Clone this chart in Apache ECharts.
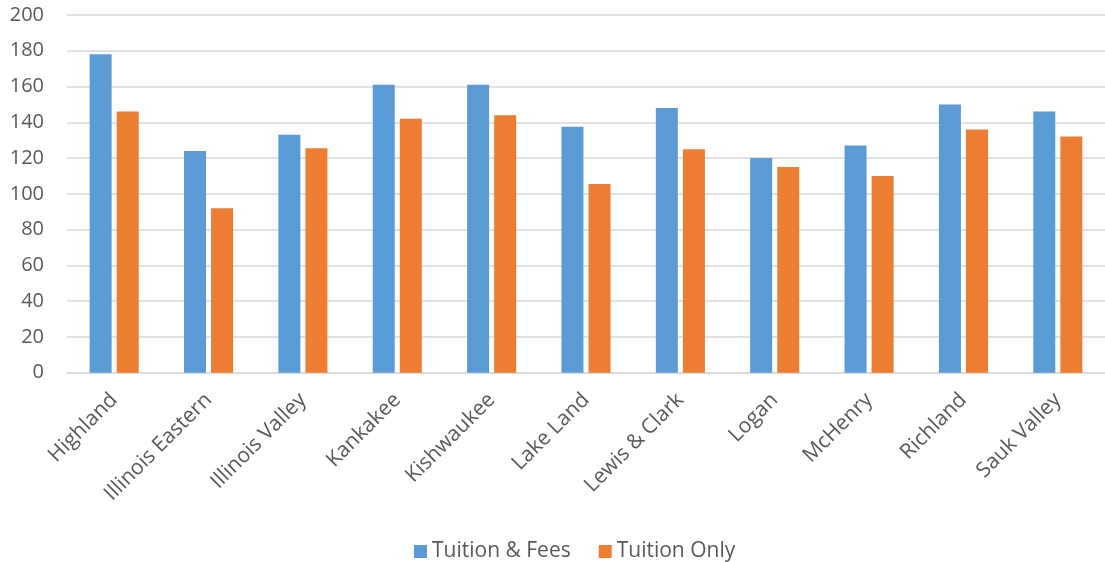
<!DOCTYPE html>
<html><head><meta charset="utf-8">
<script src="https://cdn.jsdelivr.net/npm/echarts@6/dist/echarts.min.js"></script>
<style>html,body{margin:0;padding:0;background:#fff}#c{width:1105px;height:562px}</style>
</head><body><div id="c"></div>
<script>
var categories = ["Highland","Illinois Eastern","Illinois Valley","Kankakee","Kishwaukee","Lake Land","Lewis & Clark","Logan","McHenry","Richland","Sauk Valley"];
var tuitionFees = [178,124,133,161,161,137.5,148,120,127,150,146];
var tuitionOnly = [146,92,125.5,142,144,105.5,125,115,110,136,132];
var seriesNames = ["Tuition & Fees","Tuition Only"];

var chart = echarts.init(document.getElementById('c'));
var font = "'Open Sans', 'Noto Sans', sans-serif";
chart.setOption({
  animation:false,
  textStyle:{fontFamily:font},
  color:['#5b9bd5','#ed7d31'],
  grid:{left:67, top:15, width:1046, height:357.7},
  legend:{
    data:seriesNames, left:409, top:536, itemWidth:13, itemHeight:13, itemGap:28,
    icon:'rect',
    textStyle:{fontSize:21, color:'#595959', fontFamily:font}
  },
  xAxis:{
    type:'category', data:categories,
    axisLine:{show:true, lineStyle:{color:'#d9d9d9', width:1.5}},
    axisTick:{show:false},
    axisLabel:{rotate:45, interval:0, fontSize:21, color:'#595959', margin:24, fontFamily:font}
  },
  yAxis:{
    type:'value', min:0, max:200, interval:20,
    axisLine:{show:false}, axisTick:{show:false},
    axisLabel:{fontSize:20, color:'#595959', margin:23, fontFamily:font},
    splitLine:{lineStyle:{color:'#d9d9d9', width:1.5}}
  },
  series:[
    {name:seriesNames[0], type:'bar', data:tuitionFees, barWidth:22, barGap:'23%'},
    {name:seriesNames[1], type:'bar', data:tuitionOnly, barWidth:22, barGap:'23%'}
  ]
});
</script></body></html>
